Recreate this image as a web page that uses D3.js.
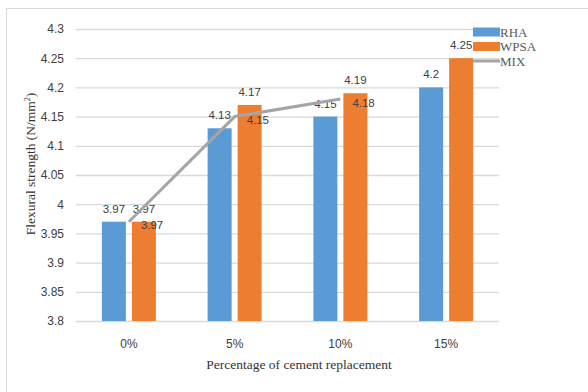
<!DOCTYPE html>
<html>
<head>
<meta charset="utf-8">
<script src="https://cdn.jsdelivr.net/npm/d3@7"></script>
<style>
  html, body { margin: 0; padding: 0; background: #fff; }
  svg { display: block; }
</style>
</head>
<body>
<svg id="chart" width="588" height="392"></svg>
<script>
// Flexural strength by percentage of cement replacement
const categories = ["0%", "5%", "10%", "15%"];
const seriesNames = ["RHA", "WPSA", "MIX"];
const rhaValues = [3.97, 4.13, 4.15, 4.2];
const wpsaValues = [3.97, 4.17, 4.19, 4.25];
const mixValues = [3.97, 4.15, 4.18, null];
const yTicks = [3.8, 3.85, 3.9, 3.95, 4, 4.05, 4.1, 4.15, 4.2, 4.25, 4.3];

const colors = { RHA: "#5b9bd5", WPSA: "#ed7d31", MIX: "#a5a5a5" };
const labelColor = "#404040";
const sansFont = "'Liberation Sans', Arial, sans-serif";
const serifFont = "'Liberation Serif', 'Times New Roman', serif";

const svg = d3.select("#chart");

// chart frame
svg.append("rect")
  .attr("x", 6.5).attr("y", 8.5)
  .attr("width", 620).attr("height", 420)
  .attr("fill", "none").attr("stroke", "#d9d9d9").attr("stroke-width", 1);

const plot = { left: 76, right: 499, top: 29, bottom: 321 };

const y = d3.scaleLinear().domain([3.8, 4.3]).range([plot.bottom, plot.top]);
const x0 = d3.scaleBand().domain(categories).range([plot.left, plot.right]).paddingInner(0).paddingOuter(0);
const half = 27;
const x1 = d3.scaleBand().domain(["RHA", "WPSA"])
  .range([x0.bandwidth() / 2 - half, x0.bandwidth() / 2 + half])
  .paddingInner(0.2).paddingOuter(0);

// horizontal gridlines
const yAxis = d3.axisLeft(y).tickValues(yTicks)
  .tickSize(-(plot.right - plot.left)).tickPadding(12)
  .tickFormat(d => d3.format("")(+d.toFixed(2)));
const gy = svg.append("g").attr("transform", `translate(${plot.left},0)`).call(yAxis);
gy.select(".domain").remove();
gy.selectAll(".tick line").attr("stroke", "#d9d9d9").attr("stroke-width", 1.3);
gy.selectAll(".tick text")
  .attr("fill", labelColor).attr("font-family", sansFont).attr("font-size", 12);

// category axis labels
const xAxis = d3.axisBottom(x0).tickSize(0).tickPadding(18);
const gx = svg.append("g").attr("transform", `translate(0,${plot.bottom})`).call(xAxis);
gx.select(".domain").remove();
gx.selectAll(".tick text")
  .attr("fill", labelColor).attr("font-family", sansFont).attr("font-size", 12);

// bars
const barData = [];
categories.forEach((c, i) => {
  barData.push({ cat: c, key: "RHA", value: rhaValues[i] });
  barData.push({ cat: c, key: "WPSA", value: wpsaValues[i] });
});

svg.append("g").selectAll("rect").data(barData).join("rect")
  .attr("x", d => x0(d.cat) + x1(d.key))
  .attr("y", d => y(d.value))
  .attr("width", x1.bandwidth())
  .attr("height", d => y(3.8) - y(d.value))
  .attr("fill", d => colors[d.key]);

// bar value labels
svg.append("g").selectAll("text").data(barData).join("text")
  .attr("x", d => x0(d.cat) + x1(d.key) + x1.bandwidth() / 2)
  .attr("y", d => y(d.value) - 9)
  .attr("text-anchor", "middle")
  .attr("fill", labelColor).attr("font-family", sansFont).attr("font-size", 11.5)
  .text(d => d.value);

// MIX line
const mixData = categories.map((c, i) => ({ cat: c, value: mixValues[i] }))
  .filter(d => d.value !== null);
const line = d3.line()
  .x(d => x0(d.cat) + x0.bandwidth() / 2)
  .y(d => y(d.value));
svg.append("path").datum(mixData)
  .attr("d", line)
  .attr("fill", "none").attr("stroke", colors.MIX).attr("stroke-width", 3)
  .attr("stroke-linejoin", "round");

svg.append("g").selectAll("text").data(mixData).join("text")
  .attr("x", d => x0(d.cat) + x0.bandwidth() / 2 + 12)
  .attr("y", d => y(d.value) + 7.5)
  .attr("text-anchor", "start")
  .attr("fill", labelColor).attr("font-family", sansFont).attr("font-size", 11.5)
  .text(d => d.value);

// legend
const legend = svg.append("g").attr("transform", "translate(473,32)");
seriesNames.forEach((name, i) => {
  const g = legend.append("g").attr("transform", `translate(0,${i * 14.5})`);
  if (name === "MIX") {
    g.append("line").attr("x1", 0).attr("x2", 27).attr("y1", 0).attr("y2", 0)
      .attr("stroke", colors.MIX).attr("stroke-width", 3);
  } else {
    g.append("rect").attr("x", 0).attr("y", -4.5).attr("width", 27).attr("height", 9)
      .attr("fill", colors[name]);
  }
  g.append("text").attr("x", 27).attr("y", 4.5)
    .attr("fill", "#595959").attr("font-family", serifFont).attr("font-size", 13)
    .text(name);
});

// axis titles
svg.append("text")
  .attr("x", 299).attr("y", 369)
  .attr("text-anchor", "middle")
  .attr("fill", "#333333").attr("font-family", serifFont).attr("font-size", 13.5)
  .text("Percentage of cement replacement");

const yTitle = svg.append("text")
  .attr("transform", "translate(35,164) rotate(-90)")
  .attr("text-anchor", "middle")
  .attr("fill", "#333333").attr("font-family", serifFont).attr("font-size", 13)
  .attr("font-size", 13.5);
yTitle.append("tspan").text("Flexural strength (N/mm");
yTitle.append("tspan").attr("dy", -5).attr("font-size", 8).text("2");
yTitle.append("tspan").attr("dy", 5).text(")");
</script>
</body>
</html>
